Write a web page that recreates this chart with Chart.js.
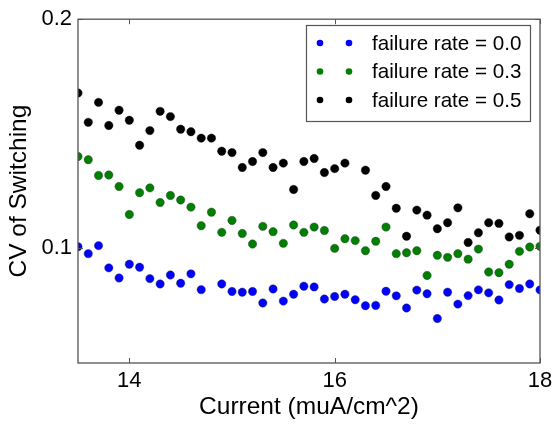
<!DOCTYPE html>
<html>
<head>
<meta charset="utf-8">
<script src="https://cdn.jsdelivr.net/npm/chart.js@4/dist/chart.umd.min.js"></script>
<style>
  html, body { margin: 0; padding: 0; background: #ffffff; }
  #wrap { width: 558px; height: 427px; }
</style>
</head>
<body>
<div id="wrap"><canvas id="c" width="558" height="427"></canvas></div>
<script>
// Injected current (muA/cm^2)
const CURRENT = [
  13.5, 13.6, 13.7, 13.8, 13.9, 14.0, 14.1, 14.2, 14.3, 14.4,
  14.5, 14.6, 14.7, 14.8, 14.9, 15.0, 15.1, 15.2, 15.3, 15.4,
  15.5, 15.6, 15.7, 15.8, 15.9, 16.0, 16.1, 16.2, 16.3, 16.4,
  16.5, 16.6, 16.7, 16.8, 16.9, 17.0, 17.1, 17.2, 17.3, 17.4,
  17.5, 17.6, 17.7, 17.8, 17.9, 18.0
];

// CV of switching, one array per failure rate (null = no sample)
const CV_RATE_00 = [
  0.1007, 0.0977, 0.1012, 0.0915, 0.0871, 0.0931, 0.0918, 0.0868, 0.0845, 0.0884,
  0.0848, 0.0889, 0.0820, null,   0.0845, 0.0812, 0.0809, 0.0812, 0.0762, 0.0823,
  0.0770, 0.0800, 0.0835, 0.0832, 0.0779, 0.0790, 0.0800, 0.0776, 0.0750, 0.0751,
  0.0813, 0.0793, 0.0740, 0.0818, 0.0802, 0.0694, 0.0809, 0.0757, 0.0794, 0.0819,
  0.0806, 0.0775, 0.0842, 0.0825, 0.0845, 0.0819
];
const CV_RATE_03 = [
  0.1401, 0.1387, 0.1318, 0.1320, 0.1270, 0.1148, 0.1243, 0.1264, 0.1200, 0.1231,
  0.1211, 0.1180, 0.1099, 0.1158, 0.1070, 0.1122, 0.1065, 0.1019, 0.1096, 0.1073,
  0.1022, 0.1102, 0.1070, 0.1093, 0.1078, 0.1000, 0.1042, 0.1034, 0.0990, 0.1031,
  0.1093, 0.0977, 0.0981, 0.0990, 0.0882, 0.0970, 0.0961, 0.0977, 0.0953, 0.0997,
  0.0897, 0.0894, 0.0931, 0.0987, 0.1006, 0.1009
];
const CV_RATE_05 = [
  0.1678, 0.1550, 0.1637, 0.1536, 0.1603, 0.1559, 0.1450, 0.1514, 0.1598, 0.1575,
  0.1520, 0.1509, 0.1481, 0.1481, 0.1424, 0.1418, 0.1353, 0.1379, 0.1418, 0.1353,
  0.1372, 0.1257, 0.1379, 0.1392, 0.1331, 0.1348, 0.1372, null,   0.1341, 0.1231,
  0.1270, 0.1175, 0.1053, 0.1167, 0.1145, 0.1086, 0.1112, 0.1177, 0.1026, 0.1068,
  0.1112, 0.1109, 0.1050, 0.1057, 0.1151, 0.1079
];

const SERIES_LABELS = ['failure rate = 0.0', 'failure rate = 0.3', 'failure rate = 0.5'];
const SERIES_COLORS = ['#0000ff', '#008000', '#000000'];
const SERIES_VALUES = [CV_RATE_00, CV_RATE_03, CV_RATE_05];

const X_TICKS = [14, 16, 18];
const Y_TICKS = [0.1, 0.2];

const FONT = '"Liberation Sans", Arial, sans-serif';
const FRAME = '#555555';

function toPoints(values) {
  return CURRENT.map((x, i) => ({ x: x, y: values[i] }));
}

// Frame, inward ticks and a boxed legend with two markers per entry
const framePlugin = {
  id: 'frameAndLegend',
  afterDraw(chart) {
    const ctx = chart.ctx;
    const a = chart.chartArea;
    const xs = chart.scales.x, ys = chart.scales.y;
    ctx.save();
    ctx.strokeStyle = FRAME;
    ctx.lineWidth = 1.3;
    ctx.strokeRect(a.left, a.top, a.right - a.left, a.bottom - a.top);
    const tl = 5;
    ctx.beginPath();
    X_TICKS.forEach(v => {
      const px = Math.round(xs.getPixelForValue(v)) + 0.5;
      ctx.moveTo(px, a.bottom); ctx.lineTo(px, a.bottom - tl);
      ctx.moveTo(px, a.top); ctx.lineTo(px, a.top + tl);
    });
    Y_TICKS.forEach(v => {
      const py = Math.round(ys.getPixelForValue(v)) + 0.5;
      ctx.moveTo(a.left, py); ctx.lineTo(a.left + tl, py);
      ctx.moveTo(a.right, py); ctx.lineTo(a.right - tl, py);
    });
    ctx.lineWidth = 1;
    ctx.stroke();

    // legend
    const box = { x: 306.5, y: 25.5, w: 224, h: 96 };
    ctx.fillStyle = '#ffffff';
    ctx.fillRect(box.x, box.y, box.w, box.h);
    ctx.strokeStyle = FRAME;
    ctx.lineWidth = 1.2;
    ctx.strokeRect(box.x, box.y, box.w, box.h);
    ctx.font = '20.6px ' + FONT;
    ctx.textBaseline = 'middle';
    ctx.textAlign = 'left';
    chart.data.datasets.forEach((ds, i) => {
      const cy = 43 + i * 28.5;
      [320, 349].forEach(cx => {
        ctx.beginPath();
        ctx.arc(cx, cy, 3.3, 0, Math.PI * 2);
        ctx.fillStyle = ds.backgroundColor;
        ctx.fill();
      });
      ctx.fillStyle = '#000000';
      ctx.fillText(ds.label, 372, cy + 1);
    });
    ctx.restore();
  }
};

const datasets = SERIES_VALUES.map((vals, i) => ({
  label: SERIES_LABELS[i],
  data: toPoints(vals),
  backgroundColor: SERIES_COLORS[i],
  borderColor: i === 2 ? '#000000' : '#333333',
  borderWidth: 0.4,
  pointRadius: 4.2,
  pointHoverRadius: 4.2,
  showLine: false,
  clip: 0
}));

new Chart(document.getElementById('c'), {
  type: 'scatter',
  data: { datasets: datasets },
  plugins: [framePlugin],
  options: {
    responsive: false,
    animation: false,
    devicePixelRatio: 1,
    layout: { padding: { left: 0, right: 18, top: 15, bottom: 0 } },
    plugins: { legend: { display: false }, tooltip: { enabled: false } },
    scales: {
      x: {
        type: 'linear',
        min: 13.5, max: 18,
        afterBuildTicks: s => { s.ticks = X_TICKS.map(v => ({ value: v })); },
        afterFit: s => { s.height = 64; },
        grid: { display: false, drawTicks: false },
        border: { display: false },
        ticks: { color: '#000000', font: { family: FONT, size: 22 }, padding: 5, maxRotation: 0 },
        title: { display: true, text: 'Current (muA/cm^2)', color: '#000000',
                 font: { family: FONT, size: 24.5 }, padding: { top: 0, bottom: 5 } }
      },
      y: {
        type: 'linear',
        min: 0.05, max: 0.2,
        afterBuildTicks: s => { s.ticks = Y_TICKS.map(v => ({ value: v })); },
        afterFit: s => { s.width = 78; },
        grid: { display: false, drawTicks: false },
        border: { display: false },
        ticks: { color: '#000000', font: { family: FONT, size: 22 }, padding: 6,
                 callback: v => String(v) },
        title: { display: true, text: 'CV of Switching', color: '#000000',
                 font: { family: FONT, size: 24.5 }, padding: { top: 5, bottom: 0 } }
      }
    }
  }
});
</script>
</body>
</html>
